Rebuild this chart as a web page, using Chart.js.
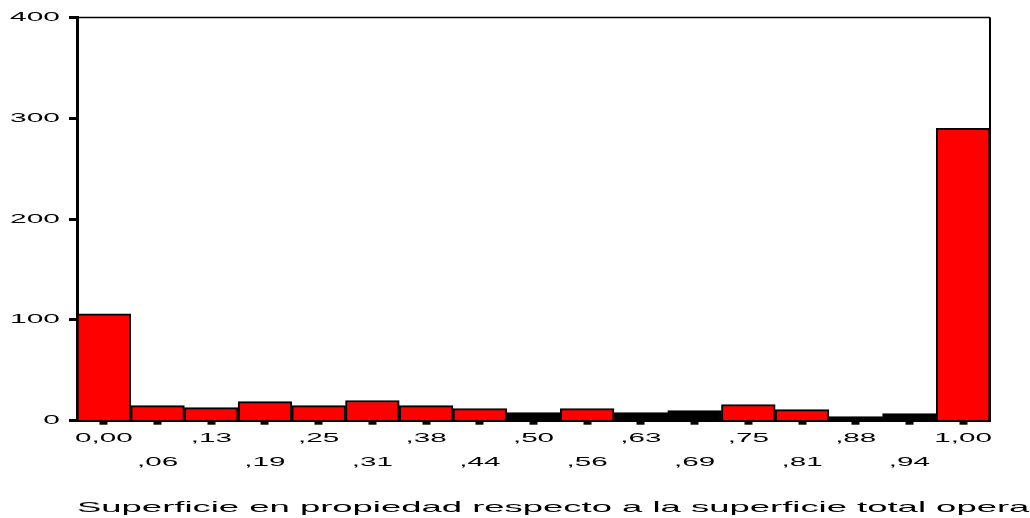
<!DOCTYPE html>
<html>
<head>
<meta charset="utf-8">
<title>Histograma superficie en propiedad</title>
<script src="https://cdn.jsdelivr.net/npm/chart.js@4.4.0/dist/chart.umd.min.js"></script>
<style>
  html, body { margin: 0; padding: 0; background: #fff; }
  canvas { display: block; }
</style>
</head>
<body>
<canvas id="histograma" width="1030" height="518"></canvas>
<script>
    // datos
    const categorias = [
        '0,00', ',06', ',13', ',19', ',25', ',31', ',38', ',44', ',50',
        ',56', ',63', ',69', ',75', ',81', ',88', ',94', '1,00'
    ];
    const frecuencias = [106, 15, 13, 19, 15, 20, 15, 12, 8, 12, 8, 10, 16, 11, 4, 7, 290];
    const marcasY = [0, 100, 200, 300, 400];
    const tituloEjeX = 'Superficie en propiedad respecto a la superficie total operada';

    const fuente = "'Liberation Sans', Arial, sans-serif";

    // el texto del original esta estirado en horizontal
    function textoAncho(ctx, texto, x, y, tam, escala, alinear) {
        ctx.save();
        ctx.font = tam + 'px ' + fuente;
        ctx.fillStyle = '#000';
        ctx.textAlign = alinear;
        ctx.textBaseline = 'middle';
        ctx.translate(x, y);
        ctx.scale(escala, 1);
        ctx.fillText(texto, 0, 0);
        ctx.restore();
    }

    const marcoYTextos = {
        id: 'marcoYTextos',
        beforeDatasetsDraw(chart) {
            const ctx = chart.ctx;
            const a = chart.chartArea;
            ctx.save();
            ctx.strokeStyle = '#000';
            ctx.lineWidth = 1.3;
            ctx.beginPath();
            ctx.moveTo(a.left, a.top);
            ctx.lineTo(a.right, a.top);
            ctx.stroke();
            ctx.lineWidth = 2;
            ctx.beginPath();
            ctx.moveTo(a.right, a.top);
            ctx.lineTo(a.right, a.bottom);
            ctx.stroke();
            ctx.restore();
        },
        afterDraw(chart) {
            const ctx = chart.ctx;
            const a = chart.chartArea;
            const escY = chart.scales.y;
            const escX = chart.scales.x;

            marcasY.forEach(v => {
                textoAncho(ctx, String(v), 60, escY.getPixelForValue(v), 13, 2.3, 'right');
            });

            categorias.forEach((c, i) => {
                const y = a.bottom + (i % 2 === 0 ? 18 : 42);
                textoAncho(ctx, c, escX.getPixelForValue(i), y, 13, 2.28, 'center');
            });

            textoAncho(ctx, tituloEjeX, a.left, 507.5, 15, 2.43, 'left');
        }
    };

    const ctxHist = document.getElementById('histograma');
    if (ctxHist) {
        const histograma = new Chart(ctxHist.getContext('2d'), {
            type: 'bar',
            data: {
                labels: categorias,
                datasets: [{
                    data: frecuencias,
                    backgroundColor: frecuencias.map(v => v <= 10 ? '#000000' : '#ff0000'),
                    borderColor: '#000000',
                    borderWidth: 2,
                    barPercentage: 1,
                    categoryPercentage: 1
                }]
            },
            options: {
                responsive: false,
                animation: false,
                devicePixelRatio: 1,
                layout: {
                    padding: { top: 17.5, right: 40, bottom: 0, left: 0 }
                },
                scales: {
                    x: {
                        offset: true,
                        grid: {
                            offset: false,
                            drawOnChartArea: false,
                            drawTicks: true,
                            tickLength: 4,
                            tickWidth: 8,
                            tickColor: '#000'
                        },
                        border: { display: true, color: '#000', width: 3 },
                        ticks: { display: false, autoSkip: false },
                        afterFit: function(scale) { scale.height = 97.3; }
                    },
                    y: {
                        min: 0,
                        max: 400,
                        grid: {
                            drawOnChartArea: false,
                            drawTicks: true,
                            tickLength: 8,
                            tickWidth: 3,
                            tickColor: '#000'
                        },
                        border: { display: true, color: '#000', width: 3 },
                        ticks: { display: false, stepSize: 100 },
                        afterFit: function(scale) { scale.width = 77; }
                    }
                },
                plugins: {
                    legend: { display: false },
                    tooltip: { enabled: false }
                }
            },
            plugins: [marcoYTextos]
        });
    }
</script>
</body>
</html>
